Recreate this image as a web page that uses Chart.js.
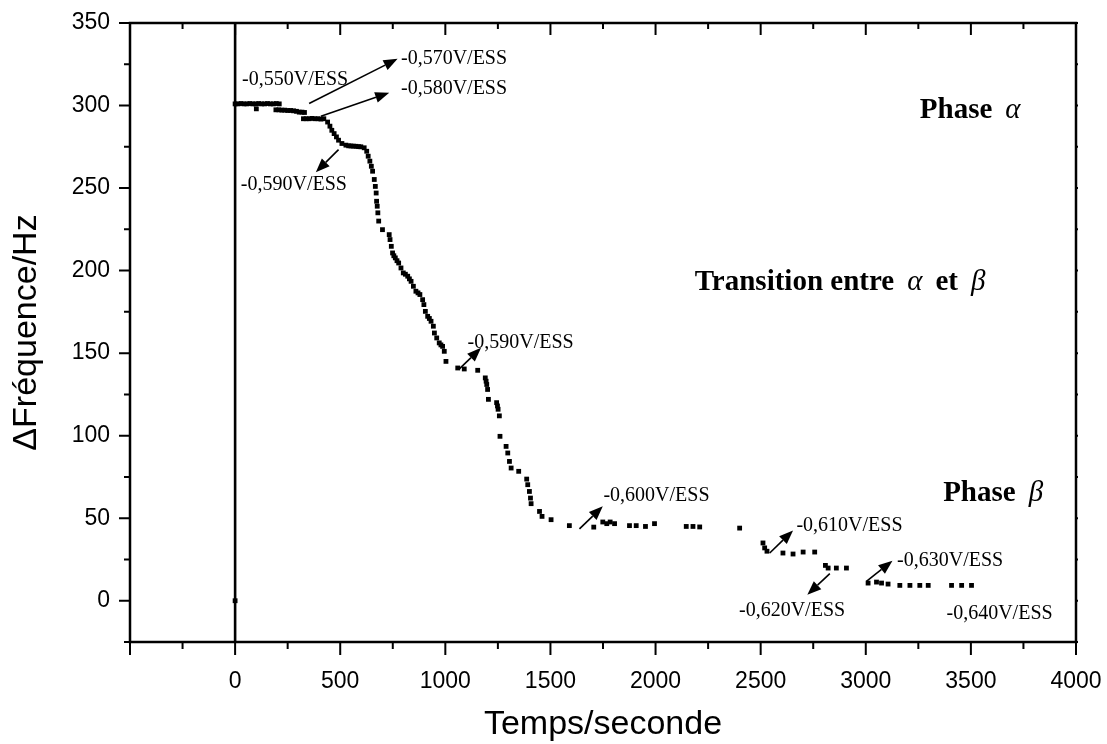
<!DOCTYPE html>
<html>
<head>
<meta charset="utf-8">
<title>ΔFréquence / Temps</title>
<script src="https://cdn.jsdelivr.net/npm/chart.js@4.4.1/dist/chart.umd.min.js"></script>
<style>
  html, body { margin: 0; padding: 0; background: #fff; }
  canvas { display: block; }
</style>
</head>
<body>
<canvas id="chart" width="1107" height="744"></canvas>
<script>
// measured points : time (s) and frequency shift (Hz)
var times = [
  0, 0, 14, 28, 42, 56, 70, 84, 98, 112, 126, 140, 154, 168, 182, 196, 210,
  101,
  194, 208, 222, 236, 250, 264, 278, 292, 305, 318, 330,
  325, 338, 352, 366, 380, 394, 408, 422,
  440, 451, 460, 471, 482, 492, 508, 527, 540, 551, 563, 575, 587, 598,
  614, 626, 633, 641, 648, 654,
  662, 667, 671, 673, 676, 679, 683, 701,
  733, 737, 743, 749, 755, 762, 770, 778, 789, 800, 810, 821, 829, 837, 848, 860,
  870, 879, 892, 898, 905, 916, 924, 932, 943, 948, 959, 971, 979, 987, 995, 1003,
  1059, 1090, 1154, 1190, 1194, 1197, 1201, 1205, 1244, 1248, 1251, 1257,
  1260, 1289, 1297, 1305, 1313, 1349, 1387, 1392, 1400, 1405, 1408,
  1448, 1460, 1503, 1590, 1706, 1749, 1768, 1784, 1805, 1876, 1908, 1952, 1995,
  2146, 2178, 2210, 2400,
  2511, 2519, 2530, 2606, 2654, 2702, 2757,
  2808, 2821, 2860, 2908,
  3011, 3051, 3075, 3106, 3162, 3210, 3257, 3297, 3408, 3456, 3503
];
var freqs = [
  0, 301, 301, 301.2, 301, 301, 301.2, 301, 301, 301.2, 301, 301, 301.2, 301, 301, 301.2, 301,
  298,
  297.4, 297.4, 297.2, 297.2, 297, 297, 296.8, 296.5, 296, 296, 295.8,
  292, 292, 292, 292.2, 292, 292, 291.8, 292,
  290, 287.5, 285, 283, 281, 279, 277, 276, 275.6, 275.5, 275.4, 275.3, 275.1, 275,
  274.4, 272.3, 269.3, 266.3, 263.2, 260.2,
  255.2, 251, 247, 242, 239, 235, 230, 224.8,
  221.8, 218.8, 214.7, 210.7, 209, 207.7, 206, 204.6, 201.6, 198.6, 197.8, 196.6, 195, 193.5, 190.5, 187.5,
  186.5, 185.5, 182.4, 179.4, 175.3, 172.3, 171, 169.3, 166.3, 162.2, 159.2, 156.2, 155, 154.1, 151.1, 145,
  141, 140.4, 139.6, 135, 133, 131, 128, 122, 120, 118, 116, 112,
  99.6, 93.5, 89.5, 84.4, 80.4, 78.4, 73.7, 70.3, 66.2, 62.2, 58.8,
  54.1, 51.1, 49.1, 45.5, 44.6, 47.7, 46.7, 47.7, 46.7, 45.5, 45.5, 45, 46.7,
  45, 45, 44.7, 44,
  35, 32, 30, 28.9, 28.3, 29.5, 29.5,
  21.4, 19.8, 19.8, 19.8,
  10.7, 11.3, 10.7, 10.1, 9.3, 9.3, 9.3, 9.3, 9.3, 9.3, 9.3
];

// axis tick labels
var xTickLabels = [0, 500, 1000, 1500, 2000, 2500, 3000, 3500, 4000];
var yTickLabels = [0, 50, 100, 150, 200, 250, 300, 350];

// potential notes (text anchor: time, Hz)
var noteTexts = ['-0,550V/ESS', '-0,570V/ESS', '-0,580V/ESS', '-0,590V/ESS', '-0,590V/ESS',
  '-0,600V/ESS', '-0,610V/ESS', '-0,630V/ESS', '-0,620V/ESS', '-0,640V/ESS'];
var noteTimes = [33, 789, 789, 27, 1106, 1752, 2670, 3149, 2397, 3384];
var noteFreqs = [312.5, 325, 307, 249, 153, 60.2, 42, 20.8, -9.5, -10.9];

// arrows: from [time, Hz] to [time, Hz]
var arrowFrom = [[352, 301.2], [408, 293.5], [492, 273.3], [1063, 140], [1638, 43.5],
  [2543, 28.9], [2829, 16.4], [3003, 11.7]];
var arrowTo = [[773, 328.3], [733, 307.7], [384, 259.6], [1170, 153.2], [1749, 57.2],
  [2654, 42.6], [2722, 3.6], [3127, 24.2]];

var SANS = '"Liberation Sans", Arial, sans-serif';
var SERIF = '"Liberation Serif", "Times New Roman", serif';

var points = times.map(function (t, i) { return { x: t, y: freqs[i] }; });

function drawRich(ctx, parts, x, y) {
  parts.forEach(function (p) {
    ctx.font = p.font;
    ctx.fillText(p.text, x, y);
    x += ctx.measureText(p.text).width + (p.gap || 0);
  });
}

function drawArrow(ctx, x1, y1, x2, y2) {
  var ang = Math.atan2(y2 - y1, x2 - x1);
  var len = 14, half = 5.5;
  var bx = x2 - len * Math.cos(ang), by = y2 - len * Math.sin(ang);
  ctx.beginPath();
  ctx.moveTo(x1, y1);
  ctx.lineTo(bx, by);
  ctx.stroke();
  ctx.beginPath();
  ctx.moveTo(x2, y2);
  ctx.lineTo(bx - half * Math.sin(ang), by + half * Math.cos(ang));
  ctx.lineTo(bx + half * Math.sin(ang), by - half * Math.cos(ang));
  ctx.closePath();
  ctx.fill();
}

var framePlugin = {
  id: 'frame',
  beforeDatasetsDraw: function (chart) {
    var ctx = chart.ctx, a = chart.chartArea, xs = chart.scales.x;
    var x0 = xs.getPixelForValue(0);
    ctx.save();
    ctx.strokeStyle = '#000';
    ctx.lineWidth = 2.6;
    ctx.beginPath();
    ctx.moveTo(x0, a.top);
    ctx.lineTo(x0, a.bottom);
    ctx.stroke();
    ctx.restore();
  },
  afterDraw: function (chart) {
    var ctx = chart.ctx, a = chart.chartArea;
    var xs = chart.scales.x, ys = chart.scales.y;
    ctx.save();
    ctx.strokeStyle = '#000';
    ctx.fillStyle = '#000';
    ctx.lineWidth = 2.5;
    ctx.strokeRect(a.left, a.top, a.right - a.left, a.bottom - a.top);

    ctx.lineWidth = 2;
    ctx.beginPath();
    xs.ticks.forEach(function (t) {
      var px = xs.getPixelForValue(t.value);
      var major = t.value % 500 === 0;
      ctx.moveTo(px, a.bottom);
      ctx.lineTo(px, a.bottom + (major ? 13 : 7));
      ctx.moveTo(px, a.top);
      ctx.lineTo(px, a.top + (major ? 12 : 6));
    });
    ys.ticks.forEach(function (t) {
      var py = ys.getPixelForValue(t.value);
      var major = t.value % 50 === 0;
      ctx.moveTo(a.left, py);
      ctx.lineTo(a.left - (major ? 11 : 6), py);
      ctx.moveTo(a.right, py);
      ctx.lineTo(a.right + 2, py);
    });
    ctx.stroke();

    // notes and arrows
    ctx.font = '20px ' + SERIF;
    ctx.textBaseline = 'alphabetic';
    ctx.textAlign = 'left';
    noteTexts.forEach(function (txt, i) {
      ctx.fillText(txt, xs.getPixelForValue(noteTimes[i]), ys.getPixelForValue(noteFreqs[i]));
    });
    ctx.lineWidth = 1.6;
    arrowFrom.forEach(function (f, i) {
      var t = arrowTo[i];
      drawArrow(ctx, xs.getPixelForValue(f[0]), ys.getPixelForValue(f[1]),
        xs.getPixelForValue(t[0]), ys.getPixelForValue(t[1]));
    });

    var bold = 'bold 29px ' + SERIF;
    var ital = 'italic 29px ' + SERIF;
    drawRich(ctx, [{ text: 'Phase', font: bold, gap: 13 }, { text: 'α', font: ital }],
      xs.getPixelForValue(3257), ys.getPixelForValue(292.5));
    drawRich(ctx, [{ text: 'Transition entre', font: bold, gap: 13 }, { text: 'α', font: ital, gap: 13 },
      { text: 'et', font: bold, gap: 13 }, { text: 'β', font: ital }],
      xs.getPixelForValue(2186), ys.getPixelForValue(188.5));
    drawRich(ctx, [{ text: 'Phase', font: bold, gap: 13 }, { text: 'β', font: ital }],
      xs.getPixelForValue(3368), ys.getPixelForValue(60.2));
    ctx.restore();
  }
};

var chart = new Chart(document.getElementById('chart'), {
  type: 'scatter',
  data: {
    datasets: [{
      label: 'ΔFréquence',
      data: points,
      pointStyle: 'rect',
      pointRadius: 3.4,
      pointHoverRadius: 3.4,
      backgroundColor: '#000',
      borderColor: '#000',
      borderWidth: 0
    }]
  },
  options: {
    responsive: false,
    animation: false,
    layout: { padding: { top: 23, right: 31, left: 0, bottom: 0 } },
    plugins: { legend: { display: false }, tooltip: { enabled: false } },
    scales: {
      x: {
        type: 'linear',
        min: -500,
        max: 4000,
        afterFit: function (s) { s.height = 102; s.paddingLeft = 0; s.paddingRight = 0; },
        ticks: {
          stepSize: 250,
          autoSkip: false,
          maxRotation: 0,
          padding: 26,
          color: '#000',
          font: { size: 23, family: SANS },
          callback: function (v) { return xTickLabels.indexOf(v) >= 0 ? String(v) : ''; }
        },
        grid: { display: false, drawTicks: false },
        border: { display: false },
        title: {
          display: true,
          text: 'Temps/seconde',
          color: '#000',
          font: { size: 34, family: SANS },
          padding: { top: 0, bottom: -1 }
        }
      },
      y: {
        type: 'linear',
        min: -25,
        max: 350,
        afterFit: function (s) { s.width = 130; s.paddingTop = 0; s.paddingBottom = 0; },
        ticks: {
          stepSize: 25,
          autoSkip: false,
          padding: 20,
          color: '#000',
          font: { size: 23, family: SANS },
          callback: function (v) { return yTickLabels.indexOf(v) >= 0 ? String(v) : ''; }
        },
        grid: { display: false, drawTicks: false },
        border: { display: false },
        title: {
          display: true,
          text: 'ΔFréquence/Hz',
          color: '#000',
          font: { size: 34, family: SANS },
          padding: { top: 6, bottom: 0 }
        }
      }
    }
  },
  plugins: [framePlugin]
});
</script>
</body>
</html>
